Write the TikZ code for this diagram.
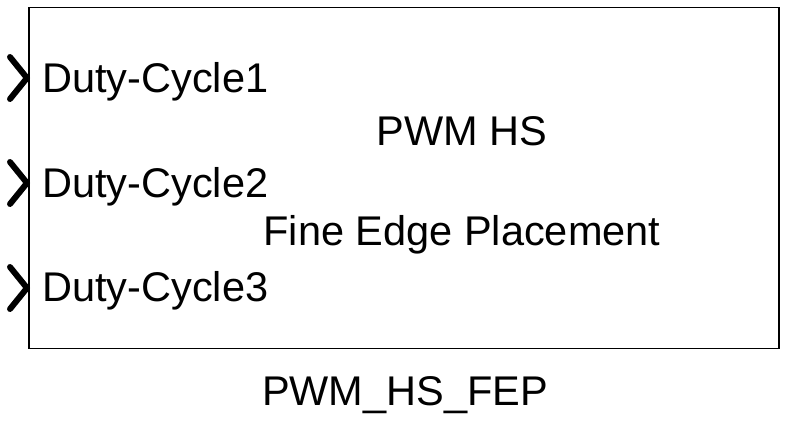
\documentclass[tikz,border=0pt]{standalone}
\usepackage{fontspec}
\setmainfont{Liberation Sans}
\begin{document}
\begin{tikzpicture}[x=1pt, y=-1pt, font=\fontsize{41.5}{49}\selectfont,
  portlbl/.style={anchor=base west, inner sep=0pt},
  chevron/.style={line width=6pt, line cap=round, line join=round}]
\useasboundingbox (0,0) rectangle (788,429);
\node[draw, line width=1.8pt, rectangle, minimum width=750pt, minimum height=341pt, inner sep=0pt] (blk) at (404,178) {};

\node[portlbl] (d1) at (42,92) {Duty-Cycle1};
\node[portlbl] (d2) at (42,197) {Duty-Cycle2};
\node[portlbl] (d3) at (42,301) {Duty-Cycle3};

\node[anchor=base, inner sep=0pt] (t1) at (462,145) {PWM HS};
\node[anchor=base, inner sep=0pt] (t2) at (462,245) {Fine Edge Placement};
\node[anchor=base, inner sep=0pt] (nm) at (405,405) {PWM\_HS\_FEP};

\foreach \y in {78,183,288}
  \draw[chevron] (10,\y-21) -- (27,\y) -- (10,\y+21);
\end{tikzpicture}
\end{document}
